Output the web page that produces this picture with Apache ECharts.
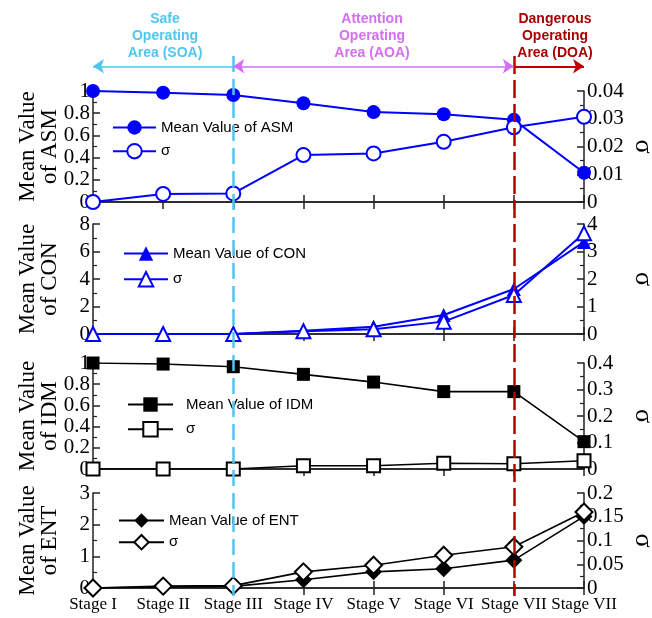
<!DOCTYPE html>
<html><head><meta charset="utf-8">
<script src="https://cdn.jsdelivr.net/npm/echarts@6/dist/echarts.min.js"></script>
<style>html,body{margin:0;padding:0;background:#fff}#c{width:652px;height:618px}</style>
</head><body><div id="c"></div>
<script>
const categories = ['Stage I','Stage II','Stage III','Stage IV','Stage V','Stage VI','Stage VII','Stage VIII'];
const tickLabels = ['Stage I','Stage II','Stage III','Stage IV','Stage V','Stage VI','Stage VII','Stage VII'];

const asmMean  = [1.0, 0.985, 0.964, 0.889, 0.81, 0.79, 0.74, 0.264];
const asmSigma = [0, 0.0029, 0.0031, 0.0169, 0.0175, 0.0217, 0.0269, 0.0307];
const conMean  = [0, 0, 0, 0.24, 0.53, 1.38, 3.27, 6.7];
const conSigma = [0, 0, 0, 0.1, 0.17, 0.45, 1.42, 3.66];
const idmMean  = [1.0, 0.99, 0.965, 0.893, 0.82, 0.73, 0.73, 0.258];
const idmSigma = [0, 0, 0, 0.0125, 0.012, 0.0215, 0.02, 0.031];
const entMean  = [0, 0.03, 0.05, 0.26, 0.51, 0.61, 0.88, 2.26];
const entSigma = [0, 0.004, 0.005, 0.034, 0.048, 0.069, 0.087, 0.160];

const panels = [
  {key:'ASM', mean:asmMean, sigma:asmSigma, color:'#0000ff', sym:'circle', symSize:14,
   top:91, h:111, lmax:1, lint:0.2, rmax:0.04, rint:0.01,
   leg:{left:112, top:120, gap:8, w:43, pad:0}},
  {key:'CON', mean:conMean, sigma:conSigma, color:'#0000ff', sym:'triangle', symSize:14,
   top:224, h:110, lmax:8, lint:2, rmax:4, rint:1,
   leg:{left:123, top:246, gap:10, w:44, pad:0}},
  {key:'IDM', mean:idmMean, sigma:idmSigma, color:'#000000', sym:'rect', symSize:13,
   top:363, h:106, lmax:1, lint:0.2, rmax:0.4, rint:0.1,
   leg:{left:127, top:397, gap:9, w:45, pad:8}},
  {key:'ENT', mean:entMean, sigma:entSigma, color:'#000000', sym:'diamond', symSize:17,
   top:493, h:95, lmax:3, lint:1, rmax:0.2, rint:0.05,
   leg:{left:118, top:513, gap:6, w:45, pad:0}}
];

const serif = 'Liberation Serif';
const sans = 'Liberation Sans';
const axisCol = '#222';
const grid=[], xAxis=[], yAxis=[], series=[], legend=[];

panels.forEach((p,i)=>{
  grid.push({left:93, right:68, top:p.top, height:p.h, containLabel:false, outerBoundsMode:'none'});
  const last = i===panels.length-1;
  xAxis.push({type:'category', gridIndex:i, data:categories, boundaryGap:false, position:'bottom',
    axisLine:{lineStyle:{color:axisCol,width:1.5}},
    axisTick:{inside:true, length:7, interval:0, lineStyle:{color:axisCol,width:1.5}},
    axisLabel:{show:last, interval:0, margin:8, fontFamily:serif, fontSize:17, color:'#000',
      formatter:(v,idx)=>tickLabels[idx]},
    splitLine:{show:false}});
  xAxis.push({type:'category', gridIndex:i, data:categories, boundaryGap:false, position:'top',
    axisLine:{lineStyle:{color:axisCol,width:1.5}},
    axisTick:{inside:true, length:7, interval:0, lineStyle:{color:axisCol,width:1.5}},
    axisLabel:{show:false}, splitLine:{show:false}});
  yAxis.push({type:'value', gridIndex:i, min:0, max:p.lmax, interval:p.lint, position:'left',
    name:'Mean Value\nof '+p.key, nameLocation:'middle', nameRotate:90, nameGap:32, nameMoveOverlap:false,
    nameTextStyle:{fontFamily:serif, fontSize:23, lineHeight:22, color:'#000'},
    axisLine:{show:true, lineStyle:{color:axisCol,width:1.5}},
    axisTick:{show:true, inside:true, length:7, lineStyle:{color:axisCol,width:1.5}},
    minorTick:{show:true, splitNumber:2, length:4, lineStyle:{color:axisCol,width:1.2}},
    axisLabel:{fontFamily:serif, fontSize:21, color:'#000', margin:3, showMinLabel:true, showMaxLabel:true, hideOverlap:false},
    splitLine:{show:false}});
  yAxis.push({type:'value', gridIndex:i, min:0, max:p.rmax, interval:p.rint, position:'right',
    name:'σ', nameLocation:'middle', nameRotate:-90, nameGap:46, nameMoveOverlap:false,
    nameTextStyle:{fontFamily:serif, fontSize:26, color:'#000'},
    axisLine:{show:true, lineStyle:{color:axisCol,width:1.5}},
    axisTick:{show:true, inside:true, length:7, lineStyle:{color:axisCol,width:1.5}},
    minorTick:{show:true, splitNumber:2, length:4, lineStyle:{color:axisCol,width:1.2}},
    axisLabel:{fontFamily:serif, fontSize:21, color:'#000', margin:3, showMinLabel:true, showMaxLabel:true, hideOverlap:false},
    splitLine:{show:false}});
  const meanName = 'Mean Value of '+p.key;
  const sigName = 'σ·'+p.key;
  series.push({type:'line', name:meanName, xAxisIndex:2*i, yAxisIndex:2*i, data:p.mean,
    symbol:p.sym, symbolSize:p.symSize, color:p.color,
    lineStyle:{color:p.color,width:p.color==='#000000'?1.6:2},
    itemStyle:{color:p.color}, z:3, animation:false});
  series.push({type:'line', name:sigName, xAxisIndex:2*i, yAxisIndex:2*i+1, data:p.sigma,
    symbol:'empty'+p.sym.charAt(0).toUpperCase()+p.sym.slice(1), symbolSize:p.symSize, color:p.color,
    lineStyle:{color:p.color,width:p.color==='#000000'?1.6:2},
    itemStyle:{color:p.color, borderWidth:2}, z:3, animation:false});
  legend.push({data:[meanName, sigName], orient:'vertical', left:p.leg.left, top:p.leg.top, padding:0,
    itemGap:p.leg.gap, itemWidth:p.leg.w, itemHeight:18, selectedMode:false,
    formatter:n=>n.indexOf('σ')===0?'σ':n,
    textStyle:{fontFamily:sans, fontSize:15, color:'#000', padding:[0,0,0,p.leg.pad]}});
});

// overlay grid for region boundaries
const ov = panels.length;
grid.push({left:93, right:68, top:56, bottom:22, containLabel:false, outerBoundsMode:'none'});
xAxis.push({type:'category', gridIndex:ov, data:categories, boundaryGap:false, show:false});
yAxis.push({type:'value', gridIndex:ov, min:0, max:1, show:false});
const arrowY = 0.981;
const cyan='#4fc6f0', mag='#d46ef2', red='#c00000';
series.push({type:'line', xAxisIndex:2*ov, yAxisIndex:2*ov, data:categories.map(()=>'-'),
  silent:true, z:10, animation:false, symbol:'none',
  markLine:{silent:true, animation:false, symbolSize:11, label:{show:false},
    data:[
      [{coord:['Stage III',1], symbol:'none', lineStyle:{color:cyan,width:2.5,type:[16,7]}},{coord:['Stage III',0], symbol:'none'}],
      [{coord:['Stage VII',1], symbol:'none', lineStyle:{color:red,width:2.5,type:[18,6]}},{coord:['Stage VII',0], symbol:'none'}],
      [{coord:['Stage III',arrowY], symbol:'none', lineStyle:{color:cyan,width:1.5,type:'solid'}},{coord:['Stage I',arrowY], symbol:'arrow'}],
      [{coord:['Stage III',arrowY], symbol:'arrow', lineStyle:{color:mag,width:1.5,type:'solid'}},{coord:['Stage VII',arrowY], symbol:'arrow'}],
      [{coord:['Stage VII',arrowY], symbol:'none', lineStyle:{color:red,width:2,type:'solid'}},{coord:['Stage VIII',arrowY], symbol:'arrow'}]
    ]}
});

const chart = echarts.init(document.getElementById('c'), null, {renderer:'canvas'});
chart.setOption({
  backgroundColor:'#fff', animation:false,
  grid, xAxis, yAxis, series, legend,
  graphic:[
    {type:'text', x:165, y:11, style:{text:'Safe\nOperating\nArea (SOA)', fill:cyan, font:'bold 14px "Liberation Sans"', lineHeight:17, align:'center'}},
    {type:'text', x:372, y:11, style:{text:'Attention\nOperating\nArea (AOA)', fill:mag, font:'bold 14px "Liberation Sans"', lineHeight:17, align:'center'}},
    {type:'text', x:555, y:11, style:{text:'Dangerous\nOperating\nArea (DOA)', fill:'#a80000', font:'bold 14px "Liberation Sans"', lineHeight:17, align:'center'}}
  ]
});
</script></body></html>
